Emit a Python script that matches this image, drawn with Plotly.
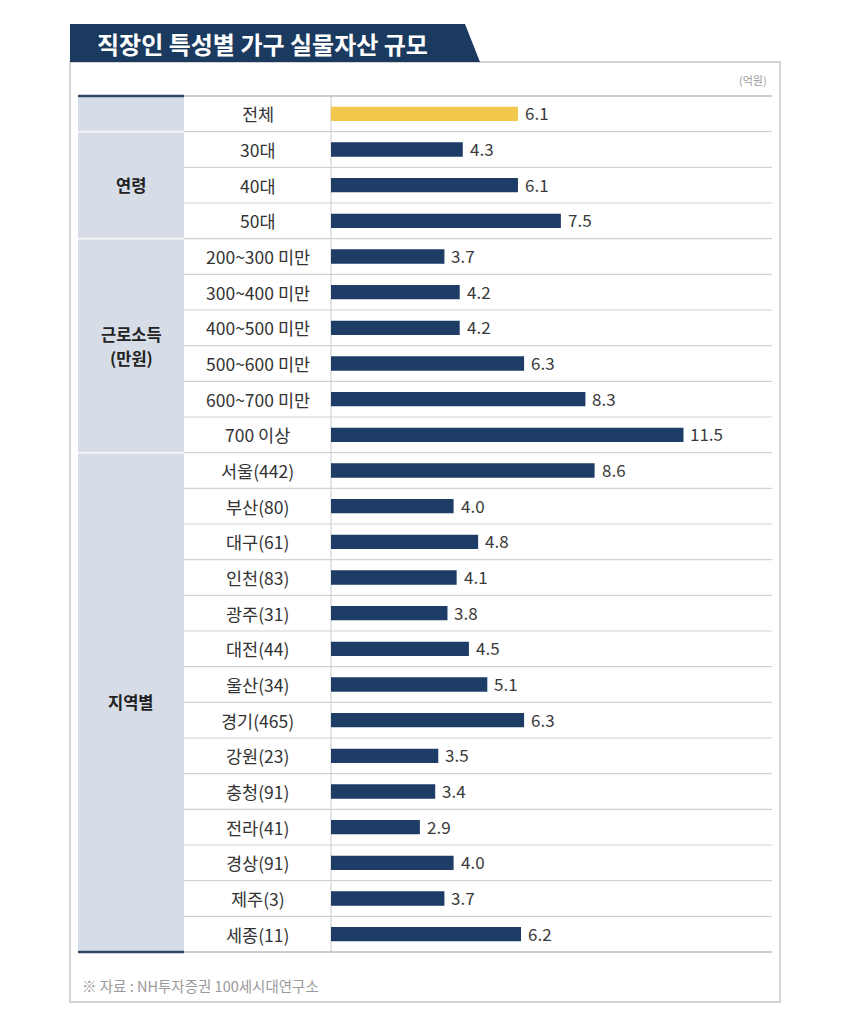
import plotly.graph_objects as go

# ---------------- data ----------------
categories = ["전체", "30대", "40대", "50대",
              "200~300 미만", "300~400 미만", "400~500 미만", "500~600 미만", "600~700 미만", "700 이상",
              "서울(442)", "부산(80)", "대구(61)", "인천(83)", "광주(31)", "대전(44)", "울산(34)",
              "경기(465)", "강원(23)", "충청(91)", "전라(41)", "경상(91)", "제주(3)", "세종(11)"]
values = [6.1, 4.3, 6.1, 7.5,
          3.7, 4.2, 4.2, 6.3, 8.3, 11.5,
          8.6, 4.0, 4.8, 4.1, 3.8, 4.5, 5.1, 6.3, 3.5, 3.4, 2.9, 4.0, 3.7, 6.2]
groups = [[], ["연령"], ["근로소득", "(만원)"], ["지역별"]]
group_sizes = [1, 3, 6, 14]
title_text = "직장인 특성별 가구 실물자산 규모"
unit_text = "(억원)"
source_text = "※ 자료 : NH투자증권 100세시대연구소"

# ---------------- layout helpers ----------------
W, H = 850, 1021
OFF = 8  # page body margin
def px(x): return (x - OFF) / W
def py(y): return 1 - (y - OFF) / H

NAVY = "#1b3a60"
BAR = "#1d3d66"
YELLOW = "#f1c84b"
GROUPBG = "#d6dde7"
GRID = "#d2d2d2"
FONT = "Noto Sans CJK KR"

tab_top, tab_bot = 96, 952
col0, col1, col2, col3 = 78, 184, 331, 772
n = len(categories)
row_h = (tab_bot - tab_top) / n
scale = 30.65  # px per unit

colors = [YELLOW] + [BAR] * (n - 1)

fig = go.Figure(go.Bar(
    x=values, y=categories, orientation="h",
    marker=dict(color=colors, line=dict(width=0)),
    width=0.4, hoverinfo="skip",
))

shapes = []
# outer box
shapes.append(dict(type="rect", xref="paper", yref="paper",
                   x0=px(70), x1=px(780), y0=py(1002), y1=py(62),
                   line=dict(color="#c6c6c6", width=1.5), fillcolor="rgba(0,0,0,0)", layer="below"))
# title banner
shapes.append(dict(type="path", xref="paper", yref="paper",
                   path=f"M {px(70)} {py(24)} L {px(465)} {py(24)} L {px(480)} {py(62)} L {px(70)} {py(62)} Z",
                   fillcolor=NAVY, line=dict(width=0)))
# group column background
shapes.append(dict(type="rect", xref="paper", yref="paper",
                   x0=px(col0), x1=px(col1), y0=py(tab_bot), y1=py(tab_top),
                   fillcolor=GROUPBG, line=dict(width=0), layer="below"))
# row lines
boundaries = []
acc = 0
for s in group_sizes:
    acc += s
    boundaries.append(acc)
for i in range(1, n):
    yy = tab_top + i * row_h
    shapes.append(dict(type="line", xref="paper", yref="paper",
                       x0=px(col1), x1=px(col3), y0=py(yy), y1=py(yy),
                       line=dict(color=GRID, width=1.2)))
    if i in boundaries:
        shapes.append(dict(type="line", xref="paper", yref="paper",
                           x0=px(col0), x1=px(col1), y0=py(yy), y1=py(yy),
                           line=dict(color="#f2f4f7", width=2)))
# vertical line before bars
shapes.append(dict(type="line", xref="paper", yref="paper",
                   x0=px(col2), x1=px(col2), y0=py(tab_bot), y1=py(tab_top),
                   line=dict(color=GRID, width=1.2), layer="below"))
# top / bottom borders
for yy in (tab_top, tab_bot):
    shapes.append(dict(type="line", xref="paper", yref="paper",
                       x0=px(col1), x1=px(col3), y0=py(yy), y1=py(yy),
                       line=dict(color="#bdbdbd", width=1.5)))
    shapes.append(dict(type="line", xref="paper", yref="paper",
                       x0=px(col0), x1=px(col1), y0=py(yy), y1=py(yy),
                       line=dict(color="#2d4a6b", width=2.5)))

annotations = []
annotations.append(dict(text=f"<b>{title_text}</b>", xref="paper", yref="paper",
                        x=px(262), y=py(43), xanchor="center", yanchor="middle", showarrow=False,
                        font=dict(family=FONT, size=24, color="white")))
annotations.append(dict(text=unit_text, xref="paper", yref="paper",
                        x=px(769), y=py(80), xanchor="right", yanchor="middle", showarrow=False,
                        font=dict(family=FONT, size=11, color="#9a9a9a")))
annotations.append(dict(text=source_text, xref="paper", yref="paper",
                        x=px(80), y=py(985), xanchor="left", yanchor="middle", showarrow=False,
                        font=dict(family=FONT, size=14.5, color="#9a9a9a")))
# category labels
for c in categories:
    annotations.append(dict(text=c, xref="paper", yref="y", x=px((col1 + col2) / 2), y=c,
                            xanchor="center", yanchor="middle", showarrow=False,
                            font=dict(family=FONT, size=17.5, color="#333333")))
# value labels
for c, v in zip(categories, values):
    annotations.append(dict(text=f"{v:.1f}", xref="x", yref="y", x=v, y=c,
                            xanchor="left", yanchor="middle", xshift=5, yshift=1, showarrow=False,
                            font=dict(family=FONT, size=17, color="#3a3a3a")))
# group labels (one annotation per line)
start = 0
for lines, s in zip(groups, group_sizes):
    k = len(lines)
    for j, line in enumerate(lines):
        annotations.append(dict(text=f"<b>{line}</b>", xref="paper", yref="y",
                                x=px((col0 + col1) / 2), y=start + (s - 1) / 2,
                                yshift=((k - 1) / 2 - j) * 24,
                                xanchor="center", yanchor="middle", showarrow=False,
                                font=dict(family=FONT, size=16.5, color="#222222")))
    start += s

fig.update_layout(
    width=W, height=H, margin=dict(l=0, r=0, t=0, b=0),
    paper_bgcolor="white", plot_bgcolor="rgba(0,0,0,0)",
    showlegend=False, shapes=shapes, annotations=annotations,
    xaxis=dict(domain=[px(col2), px(col3)], range=[0, (col3 - col2) / scale],
               visible=False, fixedrange=True),
    yaxis=dict(domain=[py(tab_bot), py(tab_top)], range=[n - 0.5, -0.5],
               visible=False, type="category", fixedrange=True,
               categoryorder="array", categoryarray=categories),
    bargap=0.6,
)

fig.write_html("out.html")
